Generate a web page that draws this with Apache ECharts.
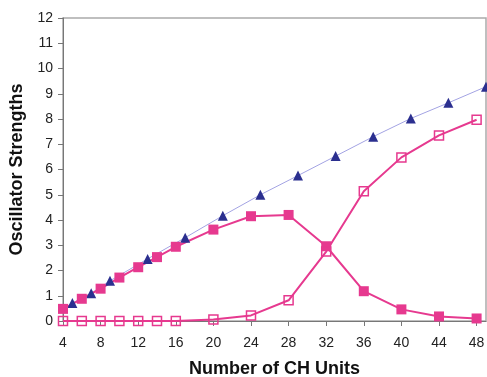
<!DOCTYPE html>
<html>
<head>
<meta charset="utf-8">
<script src="https://cdn.jsdelivr.net/npm/echarts@6/dist/echarts.min.js"></script>
<style>html,body{margin:0;padding:0;background:#fff}#c{width:487px;height:377px}</style>
</head>
<body>
<div id="c"></div>
<script>
const triX = [5, 7, 9, 13, 17, 21, 25, 29, 33, 37, 41, 45, 49];
const triY = [0.71, 1.1, 1.59, 2.46, 3.3, 4.17, 5.0, 5.76, 6.53, 7.3, 8.02, 8.64, 9.28];
const sqX = [4, 6, 8, 10, 12, 14, 16, 20, 24, 28, 32, 36, 40, 44, 48];
const filledY = [0.48, 0.88, 1.28, 1.72, 2.13, 2.53, 2.94, 3.62, 4.15, 4.2, 2.96, 1.18, 0.46, 0.18, 0.1];
const openY = [0, 0, 0, 0, 0, 0, 0, 0.06, 0.22, 0.82, 2.75, 5.14, 6.48, 7.35, 7.97];
const xTicks = [4, 8, 12, 16, 20, 24, 28, 32, 36, 40, 44, 48];
const yTicks = [0, 1, 2, 3, 4, 5, 6, 7, 8, 9, 10, 11, 12];

const pink = '#e6398f';
const navy = '#2b2f8f';
const lav = '#a3a3e3';
const font = '"Liberation Sans", Arial, sans-serif';

const chart = echarts.init(document.getElementById('c'));
chart.setOption({
  animation: false,
  grid: { left: 63, right: 1, top: 18, bottom: 56, outerBoundsMode: 'none', containLabel: false,
          show: true, borderColor: '#aaaaaa', borderWidth: 1.5 },
  xAxis: {
    type: 'value', min: 4, max: 49, interval: 4,
    name: 'Number of CH Units', nameLocation: 'middle', nameGap: 39,
    nameTextStyle: { fontFamily: font, fontWeight: 'bold', fontSize: 18, color: '#111' },
    axisLine: { show: true, lineStyle: { color: '#777', width: 1 } },
    axisTick: { show: true, length: 5, lineStyle: { color: '#777' }, customValues: xTicks },
    axisLabel: { fontFamily: font, fontSize: 14, color: '#222', margin: 15, customValues: xTicks },
    splitLine: { show: false }
  },
  yAxis: {
    type: 'value', min: 0, max: 12, interval: 1,
    name: 'Oscillator Strengths', nameLocation: 'middle', nameGap: 34,
    nameTextStyle: { fontFamily: font, fontWeight: 'bold', fontSize: 18, color: '#111' },
    axisLine: { show: true, lineStyle: { color: '#777', width: 1 } },
    axisTick: { show: true, length: 5, lineStyle: { color: '#777' } },
    axisLabel: { fontFamily: font, fontSize: 14, color: '#222', margin: 10, customValues: yTicks },
    splitLine: { show: false }
  },
  series: [
    {
      type: 'line', data: triX.map((x, i) => [x, triY[i]]),
      symbol: 'triangle', symbolSize: 10,
      lineStyle: { color: lav, width: 1 },
      itemStyle: { color: navy }
    },
    {
      type: 'line', data: sqX.map((x, i) => [x, filledY[i]]),
      symbol: 'rect', symbolSize: 10,
      lineStyle: { color: pink, width: 2 },
      itemStyle: { color: pink }
    },
    {
      type: 'line', data: sqX.map((x, i) => [x, openY[i]]),
      symbol: 'rect', symbolSize: 9,
      lineStyle: { color: pink, width: 2 },
      itemStyle: { color: 'rgba(255,255,255,0)', borderColor: pink, borderWidth: 1.5 }
    }
  ]
});
</script>
</body>
</html>
